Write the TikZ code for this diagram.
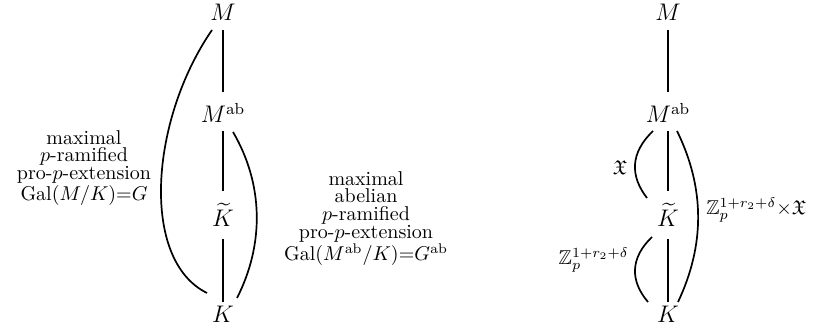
\documentclass[tikz,border=0pt]{standalone}
\usepackage{amssymb}
\usetikzlibrary{calc}
\begin{document}
\begin{tikzpicture}[x=0.5pt,y=-0.5pt,
  nd/.style={anchor=base,inner sep=0pt,font=\large},
  ln/.style={line width=0.75pt},
  curv/.style={line width=0.85pt},
  lab/.style={inner sep=0pt,align=center,font=\fontsize{10}{8.8}\selectfont},
  sm/.style={inner sep=0pt}]
\useasboundingbox (0,0) rectangle (818,335);
% left diagram
\node[nd] (M) at (223,21) {$M$};
\node[nd] (Mab) at (223,123) {$M^{\mathrm{ab}}$};
\node[nd] (Kt) at (223,227) {$\widetilde{K}$};
\node[nd] (K) at (223,323) {$K$};
\draw[ln] ($(M.base)+(0,9)$) -- ($(Mab.base)+(0,-31)$);
\draw[ln] ($(Mab.base)+(0,8)$) -- ($(Kt.base)+(0,-36)$);
\draw[ln] ($(Kt.base)+(0,12)$) -- ($(K.base)+(0,-21)$);
\draw[curv] ($(M.base)+(-11,9)$) .. controls (150,120) and (140,260) .. ($(K.base)+(-16,-30)$);
\draw[curv] ($(Mab.base)+(10,9)$) .. controls (264,185) and (264,245) .. ($(K.base)+(14,-25)$);
\node[lab,anchor=north] (L1) at (84,130) {maximal\\$p$-ramified\\pro-$p$-extension\\Gal$(M/K)$=$G$};
\node[lab,anchor=north] (L2) at (366,171) {maximal\\abelian\\$p$-ramified\\pro-$p$-extension\\Gal$(M^{\mathrm{ab}}/K)$=$G^{\mathrm{ab}}$};
% right diagram
\node[nd] (RM) at (668,21) {$M$};
\node[nd] (RMab) at (668,123) {$M^{\mathrm{ab}}$};
\node[nd] (RKt) at (668,227) {$\widetilde{K}$};
\node[nd] (RK) at (668,323) {$K$};
\draw[ln] ($(RM.base)+(0,9)$) -- ($(RMab.base)+(0,-31)$);
\draw[ln] ($(RMab.base)+(0,8)$) -- ($(RKt.base)+(0,-36)$);
\draw[ln] ($(RKt.base)+(0,12)$) -- ($(RK.base)+(0,-21)$);
\draw[curv] ($(RMab.base)+(-15,8)$) .. controls (630,153) and (630,176) .. ($(RKt.base)+(-21,-29)$);
\draw[curv] ($(RKt.base)+(-16,10)$) .. controls (630,258) and (630,281) .. ($(RK.base)+(-20,-21)$);
\draw[curv] ($(RMab.base)+(9,8)$) .. controls (705,188) and (705,245) .. ($(RK.base)+(10,-21)$);
\node[sm] (X) at (620,168) {$\mathfrak{X}$};
\node[sm,anchor=base east] (Z1) at (629,265) {$\mathbb{Z}_p^{1+r_2+\delta}$};
\node[sm,anchor=base west] (Z2) at (706,215) {$\mathbb{Z}_p^{1+r_2+\delta}{\times}\mathfrak{X}$};
\end{tikzpicture}
\end{document}
